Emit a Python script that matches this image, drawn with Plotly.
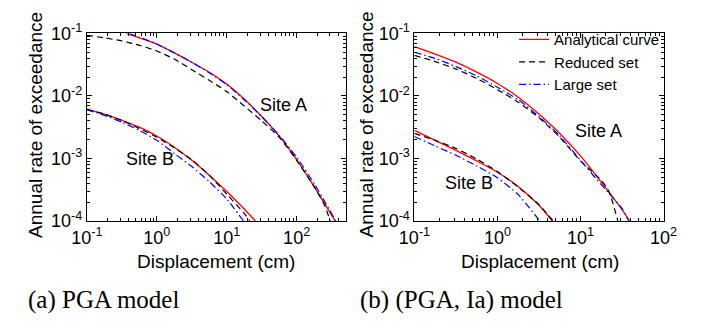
import numpy as np
import plotly.graph_objects as go

# ---------------- data (as log10 of the axis values) ----------------
# (a) PGA model -- Site A
a_A_ana_lx = [-0.44, -0.25, 0.0, 0.25, 0.5, 0.75, 1.0, 1.25, 1.5, 1.75, 2.0, 2.25, 2.55]
a_A_ana_ly = [-1.0, -1.07, -1.17, -1.31, -1.46, -1.62, -1.81, -2.05, -2.33, -2.64, -3.02, -3.45, -4.0]
a_A_red_lx = [-1.0, -0.75, -0.5, -0.25, 0.0, 0.25, 0.5, 0.75, 1.0, 1.25, 1.5, 1.75, 2.0, 2.25, 2.4, 2.48]
a_A_red_ly = [-1.03, -1.07, -1.12, -1.19, -1.28, -1.41, -1.58, -1.75, -1.93, -2.16, -2.40, -2.66, -3.03, -3.45, -3.75, -4.0]
a_A_lrg_lx = [-0.40, -0.25, 0.0, 0.25, 0.5, 0.75, 1.0, 1.25, 1.5, 1.75, 2.0, 2.25, 2.56]
a_A_lrg_ly = [-1.0, -1.06, -1.17, -1.31, -1.46, -1.63, -1.82, -2.06, -2.33, -2.63, -2.98, -3.40, -4.0]
# (a) PGA model -- Site B
a_B_ana_lx = [-1.0, -0.75, -0.5, -0.25, 0.0, 0.25, 0.5, 0.75, 1.0, 1.25, 1.41]
a_B_ana_ly = [-2.21, -2.29, -2.39, -2.50, -2.64, -2.82, -3.03, -3.27, -3.53, -3.81, -4.0]
a_B_red_lx = [-1.0, -0.75, -0.5, -0.25, 0.0, 0.25, 0.5, 0.75, 1.0, 1.25, 1.33]
a_B_red_ly = [-2.22, -2.29, -2.39, -2.52, -2.66, -2.83, -3.02, -3.27, -3.57, -3.88, -4.0]
a_B_lrg_lx = [-1.0, -0.75, -0.5, -0.25, 0.0, 0.25, 0.5, 0.75, 1.0, 1.24]
a_B_lrg_ly = [-2.22, -2.31, -2.42, -2.55, -2.71, -2.92, -3.13, -3.37, -3.65, -4.0]

# (b) (PGA, Ia) model -- Site A
b_A_ana_lx = [-1.0, -0.75, -0.5, -0.25, 0.0, 0.25, 0.5, 0.75, 1.0, 1.25, 1.5, 1.59]
b_A_ana_ly = [-1.21, -1.33, -1.46, -1.62, -1.80, -2.02, -2.29, -2.60, -2.96, -3.38, -3.82, -4.0]
b_A_red_lx = [-1.0, -0.75, -0.5, -0.25, 0.0, 0.25, 0.5, 0.75, 1.0, 1.25, 1.34, 1.45]
b_A_red_ly = [-1.35, -1.45, -1.57, -1.72, -1.90, -2.10, -2.35, -2.66, -3.04, -3.35, -3.52, -4.0]
b_A_lrg_lx = [-1.0, -0.75, -0.5, -0.25, 0.0, 0.25, 0.5, 0.75, 1.0, 1.25, 1.5, 1.58]
b_A_lrg_ly = [-1.30, -1.40, -1.53, -1.68, -1.86, -2.06, -2.33, -2.64, -3.03, -3.42, -3.80, -4.0]
# (b) (PGA, Ia) model -- Site B
b_B_ana_lx = [-1.0, -0.75, -0.5, -0.25, 0.0, 0.25, 0.5, 0.66]
b_B_ana_ly = [-2.55, -2.71, -2.87, -3.04, -3.22, -3.45, -3.75, -4.0]
b_B_red_lx = [-1.0, -0.75, -0.5, -0.25, 0.0, 0.25, 0.5, 0.67]
b_B_red_ly = [-2.60, -2.71, -2.84, -3.01, -3.21, -3.46, -3.74, -4.0]
b_B_lrg_lx = [-1.0, -0.75, -0.5, -0.25, 0.0, 0.25, 0.51]
b_B_lrg_ly = [-2.65, -2.80, -2.95, -3.12, -3.31, -3.58, -4.0]

x_lim_a = [0.1, 500]
x_lim_b = [0.1, 100]
y_lim = [1e-4, 1e-1]
x_ticks = [0.1, 1, 10, 100]
x_tick_text = ["10<sup>-1</sup>", "10<sup>0</sup>", "10<sup>1</sup>", "10<sup>2</sup>"]
y_ticks = [1e-4, 1e-3, 1e-2, 1e-1]
y_tick_text = ["10<sup>-4</sup>", "10<sup>-3</sup>", "10<sup>-2</sup>", "10<sup>-1</sup>"]
series_names = ["Analytical curve", "Reduced set", "Large set"]
site_labels = ["Site A", "Site B"]
captions = ["(a) PGA model", "(b) (PGA, Ia) model"]
x_title = "Displacement (cm)"
y_title = "Annual rate of exceedance"

# ---------------- figure ----------------
W, H = 712, 327
RED, BLACK, BLUE = "#ff0000", "#000000", "#0000ff"
styles = [dict(color=RED, width=1.3, dash="solid"),
          dict(color=BLACK, width=1.2, dash="6px,4px"),
          dict(color=BLUE, width=1.2, dash="7px,3px,1.5px,3px")]

fig = go.Figure()

def add(lx, ly, style, name, xa, ya, legend):
    fig.add_trace(go.Scatter(x=np.power(10.0, lx), y=np.power(10.0, ly), mode="lines", name=name,
                             line=dict(shape="spline", smoothing=0.6, **style),
                             xaxis=xa, yaxis=ya, showlegend=legend))

panels = [
    ("x", "y", False, [(a_A_ana_lx, a_A_ana_ly), (a_A_red_lx, a_A_red_ly), (a_A_lrg_lx, a_A_lrg_ly)]),
    ("x", "y", False, [(a_B_ana_lx, a_B_ana_ly), (a_B_red_lx, a_B_red_ly), (a_B_lrg_lx, a_B_lrg_ly)]),
    ("x2", "y2", True, [(b_A_ana_lx, b_A_ana_ly), (b_A_red_lx, b_A_red_ly), (b_A_lrg_lx, b_A_lrg_ly)]),
    ("x2", "y2", False, [(b_B_ana_lx, b_B_ana_ly), (b_B_red_lx, b_B_red_ly), (b_B_lrg_lx, b_B_lrg_ly)]),
]
for xa, ya, leg, curves in panels:
    for (lx, ly), st, nm in zip(curves, styles, series_names):
        add(lx, ly, st, nm, xa, ya, leg)

FONT = "Liberation Sans, Arial, sans-serif"
SERIF = "Liberation Serif, Times New Roman, serif"
TF = dict(family=FONT, size=18, color="black")

def xaxis(dom, lim):
    return dict(type="log", domain=dom, range=[np.log10(lim[0]), np.log10(lim[1])],
                showline=True, linecolor="black", linewidth=1, mirror="allticks",
                ticks="inside", ticklen=5, tickcolor="black", showgrid=False, zeroline=False,
                tickmode="array", tickvals=x_ticks, ticktext=x_tick_text, tickfont=TF,
                minor=dict(ticks="inside", ticklen=3, tickcolor="black", dtick="D1", showgrid=False))

def yaxis(dom, anchor):
    return dict(type="log", domain=dom, anchor=anchor, range=[np.log10(y_lim[0]), np.log10(y_lim[1])],
                showline=True, linecolor="black", linewidth=1, mirror="allticks",
                ticks="inside", ticklen=5, tickcolor="black", showgrid=False, zeroline=False,
                tickmode="array", tickvals=y_ticks, ticktext=y_tick_text, tickfont=TF,
                minor=dict(ticks="inside", ticklen=3, tickcolor="black", dtick="D1", showgrid=False))

ydom = [1 - 224 / H, 1 - 23 / H]
fig.update_layout(
    width=W, height=H, margin=dict(l=0, r=0, t=0, b=0),
    paper_bgcolor="white", plot_bgcolor="white",
    xaxis=xaxis([74 / W, 344 / W], x_lim_a),
    yaxis=yaxis(ydom, "x"),
    xaxis2=dict(xaxis([416 / W, 676 / W], x_lim_b), anchor="y2"),
    yaxis2=yaxis(ydom, "x2"),
    showlegend=True,
    legend=dict(x=520 / W, y=1 - 12 / H, xanchor="left", yanchor="top",
                bgcolor="rgba(255,255,255,0)", borderwidth=0,
                font=dict(family=FONT, size=15, color="black"),
                itemwidth=30, tracegroupgap=0),
)

ann = []
def text(x, y, s, size=18, family=FONT, angle=0, xanchor="center"):
    ann.append(dict(x=x / W, y=1 - y / H, xref="paper", yref="paper", text=s, showarrow=False,
                    font=dict(family=family, size=size, color="black"), textangle=angle,
                    xanchor=xanchor, yanchor="middle"))

# axis titles
text(209, 267, x_title, size=19)
text(547, 267, x_title, size=19)
text(21, 121, y_title, size=19, angle=-90)
text(366, 121, y_title, size=19, angle=-90)
# site labels
text(279, 100, site_labels[0])
text(140, 158, site_labels[1])
text(608, 128, site_labels[0])
text(473, 183, site_labels[1])
# captions
text(10, 309, captions[0], size=25, family=SERIF, xanchor="left")
text(357, 309, captions[1], size=25, family=SERIF, xanchor="left")
fig.update_layout(annotations=ann)

fig.write_html("out.html")
